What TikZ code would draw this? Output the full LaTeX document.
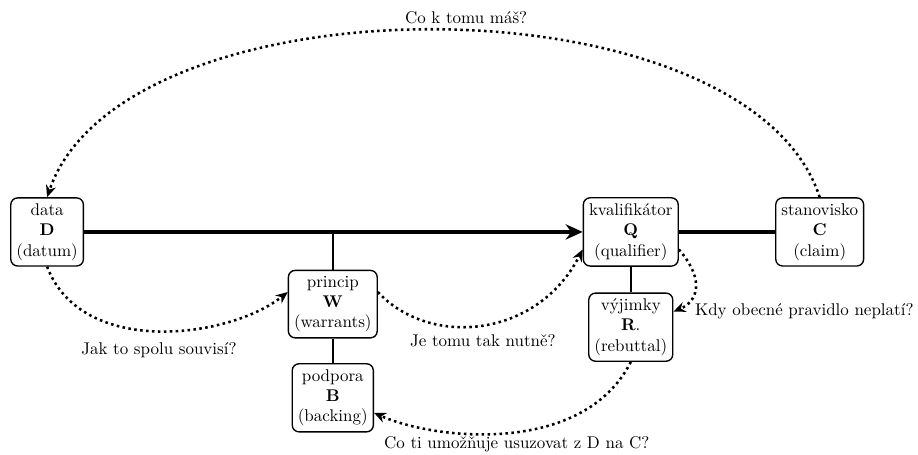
\documentclass[tikz,border=0pt]{standalone}
\usepackage{tikz}
\usetikzlibrary{arrows.meta}
\begin{document}
\begin{tikzpicture}
            [x=1.06cm,y=1.06cm,
             box/.style={draw,rounded corners=4pt,align=center,thick,fill=white},
             link/.style={dotted,line width=1.5pt,-{Stealth[length=7pt,width=6pt]}},
             lbl/.style={inner sep=2pt}]
            \useasboundingbox (0,0) rectangle (17.93,-8.87);
            \node[box](D) at (0.92,-4.53) {data\\\textbf{D}\\(datum)};
            \node[box](W) at (6.50,-5.94) {princip\\\textbf{W}\\(warrants)};
            \node[box](B) at (6.50,-7.77) {podpora\\\textbf{B}\\(backing)};
            \node[box](Q) at (12.32,-4.53) {kvalifik\'ator\\\textbf{Q}\\(qualifier)};
            \node[box](C) at (16.01,-4.53) {stanovisko\\\textbf{C}\\(claim)};
            \node[box](R) at (12.32,-6.39) {v\'yjimky\\\textbf{R}.\\(rebuttal)};
            \coordinate (j) at (W.north |- D.east);
            % main lines
            \draw[line width=2.5pt,-{Stealth[length=10pt,width=9pt]}] (D) -- (Q);
            \draw[line width=2.5pt] (Q) -- (C);
            \draw[very thick] (j) -- (W) -- (B);
            \draw[very thick] (Q) -- (R);
            % questions
            \draw[link] (C.north) .. controls (14.6,0.5) and (2.4,0.5) .. (D.north)
                node[lbl,pos=0.47,above=1pt]{Co k tomu m\'a\v{s}?};
            \draw[link] (D.south) .. controls (1.6,-7.0) and (4.5,-6.6) .. (W.165)
                node[lbl,pos=0.5,below=4pt]{Jak to spolu souvis\'i?};
            \draw[link] (W.15) .. controls (8.4,-6.8) and (10.5,-6.6) .. (Q.200)
                node[lbl,pos=0.5,below=3pt]{Je tomu tak nutn\v{e}?};
            \draw[link] (Q.340) .. controls (13.8,-5.5) and (13.6,-5.9) .. (R.20)
                node[lbl,pos=1,right=10pt]{Kdy obecn\'e pravidlo neplat\'i?};
            \draw[link] (R.south) .. controls (11.4,-8.9) and (8.5,-8.6) .. (B.-20)
                node[lbl,pos=0.47,below=0pt]{Co ti umo\v{z}\v{n}uje usuzovat z D na C?};
        \end{tikzpicture}
\end{document}
